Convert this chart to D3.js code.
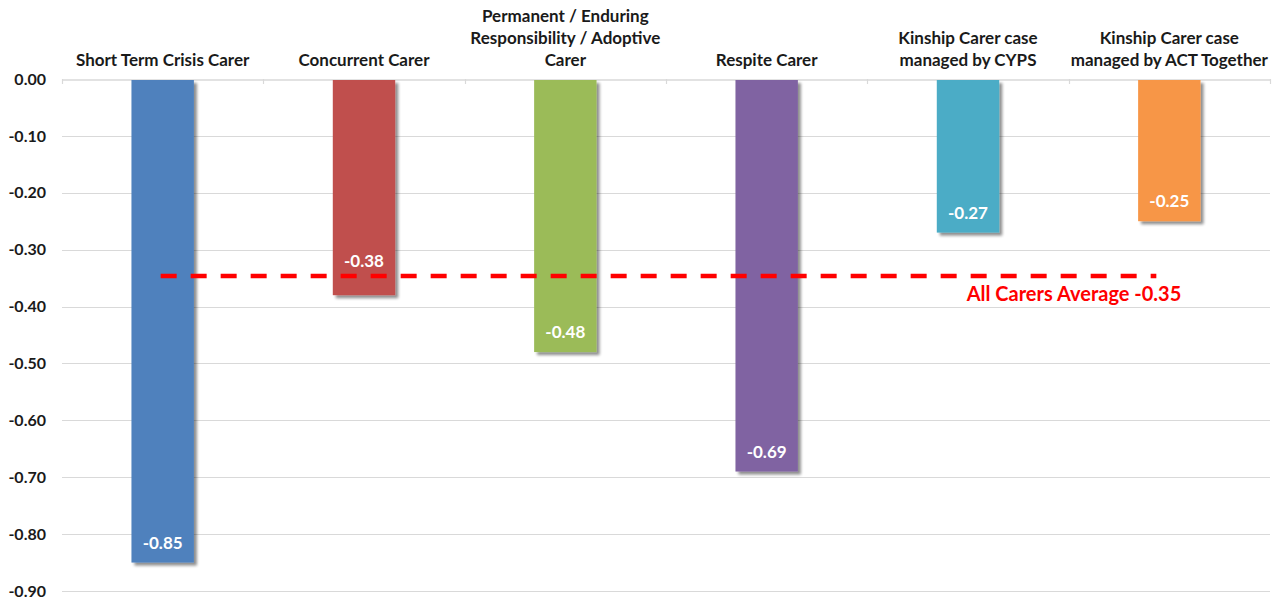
<!DOCTYPE html>
<html>
<head>
<meta charset="utf-8">
<script src="https://cdn.jsdelivr.net/npm/d3@7"></script>
<style>
  html, body { margin: 0; padding: 0; background: #fff; }
  svg { display: block; font-family: Lato, "Open Sans", sans-serif; }
</style>
</head>
<body>
<svg id="chart" width="1277" height="601"></svg>
<script>
// Carer types (each label line is a separate entry)
const categories = [
  ["Short Term Crisis Carer"],
  ["Concurrent Carer"],
  ["Permanent / Enduring", "Responsibility / Adoptive", "Carer"],
  ["Respite Carer"],
  ["Kinship Carer case", "managed by CYPS"],
  ["Kinship Carer case", "managed by ACT Together"]
];
const values = [-0.85, -0.38, -0.48, -0.69, -0.27, -0.25];
const colors = ["#4F81BD", "#C0504D", "#9BBB59", "#8064A2", "#4BACC6", "#F79646"];
const averageValue = -0.35;
const averageLabel = "All Carers Average -0.35";
const yTicks = [0, -0.1, -0.2, -0.3, -0.4, -0.5, -0.6, -0.7, -0.8, -0.9];

// two decimals with a plain hyphen for the minus sign
const fmt = d => d3.format(".2f")(d).replace("\u2212", "-");

const svg = d3.select("#chart");
const margin = { left: 62, right: 7, top: 79, bottom: 10 };
const W = 1277;

const x = d3.scaleBand()
  .domain(d3.range(categories.length))
  .range([margin.left, W - margin.right])
  .paddingInner(0).paddingOuter(0);

const y = d3.scaleLinear()
  .domain([0, -0.9])
  .range([margin.top, 591]);

// drop shadow for bars
const defs = svg.append("defs");
const f = defs.append("filter").attr("id", "shadow")
  .attr("x", "-20%").attr("y", "-5%").attr("width", "150%").attr("height", "120%");
f.append("feGaussianBlur").attr("in", "SourceAlpha").attr("stdDeviation", 1.6).attr("result", "b");
f.append("feOffset").attr("in", "b").attr("dx", 3).attr("dy", 3).attr("result", "o");
f.append("feComponentTransfer").attr("in", "o").attr("result", "s")
  .append("feFuncA").attr("type", "linear").attr("slope", 0.45);
const m = f.append("feMerge");
m.append("feMergeNode").attr("in", "s");
m.append("feMergeNode").attr("in", "SourceGraphic");

// horizontal gridlines
svg.append("g").selectAll("line")
  .data(yTicks.filter(d => d !== 0))
  .join("line")
  .attr("x1", margin.left).attr("x2", W - margin.right)
  .attr("y1", d => Math.round(y(d)) + 0.5).attr("y2", d => Math.round(y(d)) + 0.5)
  .attr("stroke", "#d9d9d9").attr("stroke-width", 1.2);

// y axis labels
const yAxis = d3.axisLeft(y).tickValues(yTicks).tickFormat(fmt).tickSize(0).tickPadding(16);
const yg = svg.append("g").attr("transform", `translate(${margin.left},0)`).call(yAxis);
yg.select(".domain").remove();
yg.selectAll("text")
  .attr("font-family", "Lato, sans-serif")
  .attr("font-size", 16).attr("font-weight", "bold").attr("fill", "#1a1a1a");

// category axis along zero
const xAxis = d3.axisBottom(x).tickSize(0).tickFormat("");
const xg = svg.append("g").attr("transform", `translate(0,${Math.round(y(0)) + 0.5})`).call(xAxis);
xg.select(".domain").attr("stroke", "#d9d9d9").attr("stroke-width", 1.5);
xg.selectAll(".tick").remove();
svg.append("g").selectAll("line")
  .data(d3.range(categories.length + 1))
  .join("line")
  .attr("x1", i => Math.round(margin.left + i * x.step()) + 0.5)
  .attr("x2", i => Math.round(margin.left + i * x.step()) + 0.5)
  .attr("y1", y(0)).attr("y2", y(0) + 5)
  .attr("stroke", "#d9d9d9").attr("stroke-width", 1.2);

// bars
const barW = x.step() * 0.31;
svg.append("g").selectAll("rect")
  .data(values)
  .join("rect")
  .attr("x", (d, i) => x(i) + x.bandwidth() / 2 - barW / 2)
  .attr("y", y(0) + 1)
  .attr("width", barW)
  .attr("height", d => y(d) - y(0) - 1)
  .attr("fill", (d, i) => colors[i])
  .attr("filter", "url(#shadow)");

// category labels above the axis
const catG = svg.append("g");
categories.forEach((lines, i) => {
  const cx = x(i) + x.bandwidth() / 2;
  const lastBase = 66;
  lines.forEach((t, j) => {
    catG.append("text")
      .attr("x", cx)
      .attr("y", lastBase - (lines.length - 1 - j) * 22)
      .attr("text-anchor", "middle")
      .attr("font-size", 17).attr("font-weight", "bold").attr("fill", "#1a1a1a")
      .text(t);
  });
});

// average line
const avgY = y(averageValue) - 2;
svg.append("line")
  .attr("x1", x(0) + x.bandwidth() / 2 - 2)
  .attr("x2", x(categories.length - 1) + x.bandwidth() / 2 - 13)
  .attr("y1", avgY).attr("y2", avgY)
  .attr("stroke", "#FF0000").attr("stroke-width", 4.5)
  .attr("stroke-dasharray", "16 14");

svg.append("text")
  .attr("x", x(categories.length - 1) + x.bandwidth() / 2 + 12)
  .attr("y", avgY + 25)
  .attr("text-anchor", "end")
  .attr("font-size", 20).attr("font-weight", "bold").attr("fill", "#FF0000")
  .text(averageLabel);

// value labels inside the bar ends; lifted above the average line if they would overlap it
svg.append("g").selectAll("text")
  .data(values)
  .join("text")
  .attr("x", (d, i) => x(i) + x.bandwidth() / 2)
  .attr("y", d => {
    let b = y(d) - 14;
    if (avgY > b - 16 && avgY < b + 4) b = avgY - 9;
    return b;
  })
  .attr("text-anchor", "middle")
  .attr("font-size", 17).attr("font-weight", "bold").attr("fill", "#fff")
  .text(fmt);
</script>
</body>
</html>
